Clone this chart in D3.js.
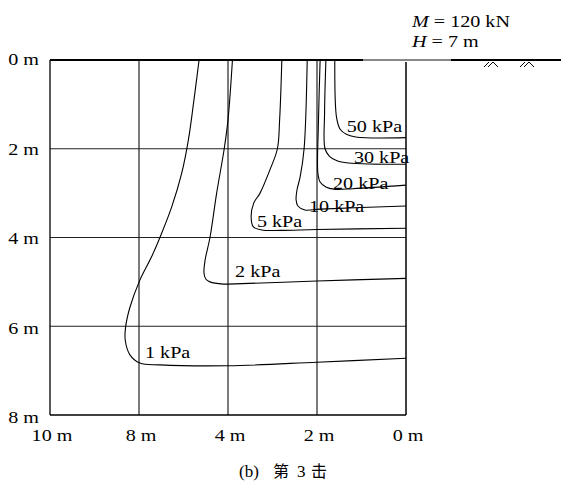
<!DOCTYPE html>
<html><head><meta charset="utf-8">
<script src="https://cdn.jsdelivr.net/npm/d3@7"></script>
<style>html,body{margin:0;padding:0;background:#fff;} svg{display:block;}</style>
</head><body><svg id="c" width="561" height="482"></svg>
<script>
// ---- data ----
const xTickValues = [10, 8, 4, 2, 0];
const xTickLabels = ["10 m", "8 m", "4 m", "2 m", "0 m"];
const yTickValues = [0, 2, 4, 6, 8];
const yTickLabels = ["0 m", "2 m", "4 m", "6 m", "8 m"];
const contourLevels = ["1 kPa", "2 kPa", "5 kPa", "10 kPa", "20 kPa", "30 kPa", "50 kPa"];
// [horizontal distance (m), depth (m)]
const contour1 = [[5.30,0],[5.53,0.9],[5.78,1.80],[6.08,2.55],[6.53,3.31],[7.06,4.0],[7.43,4.43],[7.96,4.96],[8.20,5.56],[8.30,6.01],[8.31,6.31],[8.20,6.65],[7.96,6.83],[7.06,6.87],[4.0,6.89],[2.0,6.81],[0,6.72]];
const contour2 = [[3.90,0],[4.0,1.35],[4.17,2.0],[4.51,3.0],[4.81,4.0],[5.03,4.51],[5.08,4.80],[4.99,4.94],[4.81,5.0],[4.21,5.05],[4.0,5.05],[2.0,4.98],[0,4.92]];
const contour5 = [[2.79,0],[2.84,1.35],[2.89,2.0],[3.06,2.48],[3.28,3.0],[3.42,3.22],[3.48,3.53],[3.43,3.76],[3.24,3.83],[2.83,3.84],[2.0,3.82],[0,3.79]];
const contour10 = [[2.22,0],[2.29,2.0],[2.38,2.64],[2.45,2.93],[2.47,3.15],[2.43,3.29],[2.27,3.38],[1.93,3.36],[0,3.29]];
const contour20 = [[1.93,0],[1.97,1.5],[1.98,2.55],[1.93,2.75],[1.80,2.86],[1.62,2.91],[1.2,2.9],[0,2.82]];
const contour30 = [[1.80,0],[1.83,1.2],[1.82,2.0],[1.72,2.17],[1.55,2.27],[1.30,2.32],[0,2.35]];
const contour50 = [[1.60,0],[1.56,1.3],[1.48,1.56],[1.33,1.68],[1.10,1.74],[0,1.75]];
const contourData = [contour1, contour2, contour5, contour10, contour20, contour30, contour50];
const contourLabelX = [7.73, 3.84, 3.35, 2.18, 1.64, 1.17, 1.33];
const contourLabelY = [6.71, 4.88, 3.76, 3.42, 2.915, 2.33, 1.615];
const loadM = "120 kN";
const heightH = "7 m";
const captionParts = ["(b)", "第", "3", "击"];

// ---- layout ----
const svg = d3.select("#c");
const pL = 50, pR = 406, pT = 60, pB = 415;
const x = d3.scaleLinear()
  .domain(xTickValues)
  .range(xTickValues.map((d, i) => pL + i * (pR - pL) / (xTickValues.length - 1)));
const y = d3.scaleLinear().domain([0, 8]).range([pT, pB]);
const FONT = "'Liberation Serif','Times New Roman',serif";
const FS = 17.5, SX = 1.15;

function txt(g, px, py, s, anchor) {
  return g.append("text")
    .attr("transform", `translate(${px},${py}) scale(${SX},1)`)
    .attr("text-anchor", anchor || "start")
    .attr("font-family", FONT)
    .attr("font-size", FS)
    .attr("fill", "#000")
    .text(s);
}

// grid
const grid = svg.append("g");
grid.selectAll("line.v").data(xTickValues.slice(1, -1)).join("line")
  .attr("x1", d => x(d)).attr("x2", d => x(d))
  .attr("y1", pT).attr("y2", pB)
  .attr("stroke", "#222").attr("stroke-width", 1.2);
grid.selectAll("line.h").data(yTickValues.slice(1, -1)).join("line")
  .attr("x1", pL).attr("x2", pR)
  .attr("y1", d => y(d)).attr("y2", d => y(d))
  .attr("stroke", "#222").attr("stroke-width", 1.2);
// borders
grid.append("line").attr("x1", pL).attr("x2", pL).attr("y1", pT).attr("y2", pB)
  .attr("stroke", "#000").attr("stroke-width", 1.3);
grid.append("line").attr("x1", pR).attr("x2", pR).attr("y1", pT + 2).attr("y2", pB)
  .attr("stroke", "#000").attr("stroke-width", 1.5);
grid.append("line").attr("x1", pL).attr("x2", pR).attr("y1", pB).attr("y2", pB)
  .attr("stroke", "#000").attr("stroke-width", 1.3);

// ground surface
grid.append("line").attr("x1", pL).attr("x2", 363).attr("y1", pT).attr("y2", pT)
  .attr("stroke", "#000").attr("stroke-width", 2);
grid.append("line").attr("x1", 363).attr("x2", 451).attr("y1", pT).attr("y2", pT)
  .attr("stroke", "#888").attr("stroke-width", 2);
grid.append("line").attr("x1", 451).attr("x2", 561).attr("y1", pT).attr("y2", pT)
  .attr("stroke", "#000").attr("stroke-width", 2);
// soil hatch symbols
[484, 520].forEach(h => {
  grid.append("path")
    .attr("d", `M${h},67 L${h+5},62 M${h+4},67 L${h+9},62 L${h+14},67`)
    .attr("fill", "none").attr("stroke", "#000").attr("stroke-width", 1);
});

// contours
svg.append("clipPath").attr("id", "clip").append("rect")
  .attr("x", pL).attr("y", pT).attr("width", pR - pL).attr("height", pB - pT);
const line = d3.line().x(d => x(d[0])).y(d => y(d[1])).curve(d3.curveCatmullRom.alpha(0.5));
svg.append("g").attr("clip-path", "url(#clip)")
  .selectAll("path").data(contourData).join("path")
  .attr("d", line).attr("fill", "none").attr("stroke", "#000").attr("stroke-width", 1.1);

// contour labels
const lbl = svg.append("g");
contourLevels.forEach((s, i) => txt(lbl, x(contourLabelX[i]), y(contourLabelY[i]), s, "start"));

// axis labels
const ax = svg.append("g");
yTickValues.forEach((d, i) => txt(ax, 39, y(d) + 5 + d * 0.4, yTickLabels[i], "end"));
xTickValues.forEach((d, i) => txt(ax, x(d) + 2, 441, xTickLabels[i], "middle"));

// annotation
const ann = svg.append("g");
const tM = txt(ann, 412, 26.7, "", "start");
tM.append("tspan").attr("font-style", "italic").text("M");
tM.append("tspan").text(" = " + loadM);
const tH = txt(ann, 412, 46.7, "", "start");
tH.append("tspan").attr("font-style", "italic").text("H");
tH.append("tspan").text(" = " + heightH);

// caption
const cap = svg.append("text").attr("y", 477)
  .attr("font-family", "'Liberation Serif','Noto Sans CJK SC',serif")
  .attr("font-size", 17).attr("fill", "#000");
const capX = [239, 273, 297, 311];
captionParts.forEach((s, i) => cap.append("tspan").attr("x", capX[i])
  .attr("font-size", i % 2 === 1 ? 16 : 17).text(s));
</script>
</body></html>
